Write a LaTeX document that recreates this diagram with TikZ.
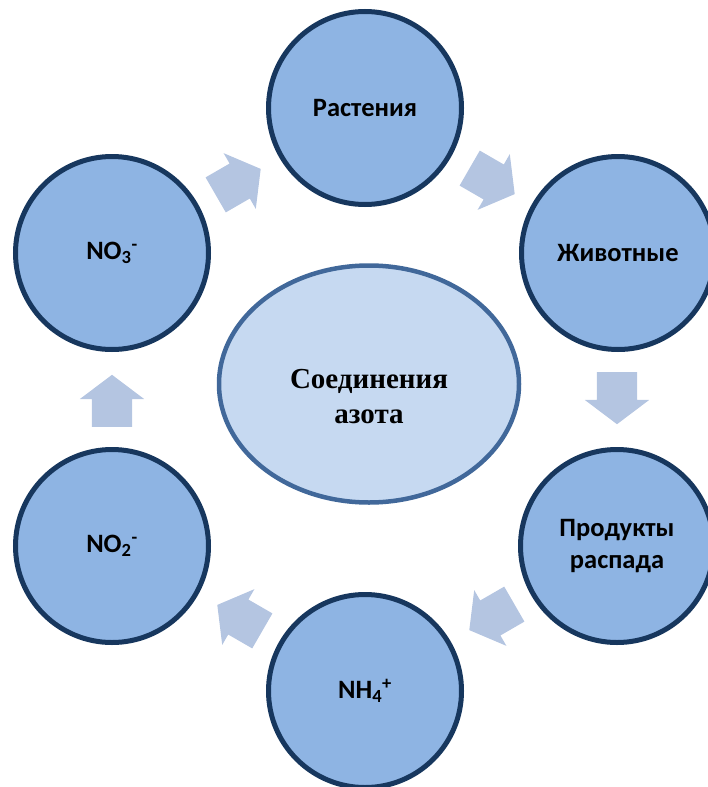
\documentclass[tikz,border=0pt]{standalone}
\usepackage{fontspec}
\setmainfont{Carlito}
\newfontfamily\hubfont{Liberation Serif}
\usetikzlibrary{shapes.geometric, shapes.arrows}
\definecolor{cyclefill}{HTML}{8EB4E3}
\definecolor{cycleline}{HTML}{17375E}
\definecolor{hubfill}{HTML}{C6D9F1}
\definecolor{hubline}{HTML}{41689A}
\definecolor{arrowfill}{HTML}{B4C5E1}

\begin{document}
\begin{tikzpicture}[
        x=1pt, y=-1pt,
        cyclenode/.style={circle, draw=cycleline, line width=5pt, fill=cyclefill, minimum size=193pt, inner sep=0pt, align=center, font=\fontsize{26.5}{32}\selectfont\bfseries},
        hub/.style={ellipse, draw=hubline, line width=4.5pt, fill=hubfill, minimum width=300pt, minimum height=237pt, inner sep=0pt},
        hubtext/.style={align=center, inner sep=0pt, font=\hubfont\fontsize{29}{35}\selectfont\bfseries},
        cyclearrow/.style={single arrow, draw=none, fill=arrowfill, inner sep=0pt, text height=40pt, text depth=0pt, minimum height=52pt, single arrow head extend=12pt, single arrow tip angle=106, anchor=tail}
    ]
    \useasboundingbox (0,0) rectangle (707,787);
    \node[hub] (hub) at (369,384) {};
    \node[hubtext] (hublabel) at (369,397) {Соединения\\азота};
    \node[cyclenode] (plants) at (365,108) {Растения};
    \node[cyclenode] (animals) at (618,253) {Животные};
    \node[cyclenode] (decay) at (617,546) {Продукты\\распада};
    \node[cyclenode] (ammonium) at (365,691) {NH\textsubscript{4}\textsuperscript{+}};
    \node[cyclenode] (nitrite) at (112,546) {NO\textsubscript{2}\textsuperscript{-}};
    \node[cyclenode] (nitrate) at (112,253) {NO\textsubscript{3}\textsuperscript{-}};
    \node[cyclearrow, rotate=30] (nitrate-plants) at (215.5,195) {};
    \node[cyclearrow, rotate=-30] (plants-animals) at (469.5,168) {};
    \node[cyclearrow, rotate=-90] (animals-decay) at (617,372) {};
    \node[cyclearrow, rotate=-150] (decay-ammonium) at (514.5,604) {};
    \node[cyclearrow, rotate=150] (ammonium-nitrite) at (262.5,631) {};
    \node[cyclearrow, rotate=90] (nitrite-nitrate) at (112,427) {};
\end{tikzpicture}
\end{document}
